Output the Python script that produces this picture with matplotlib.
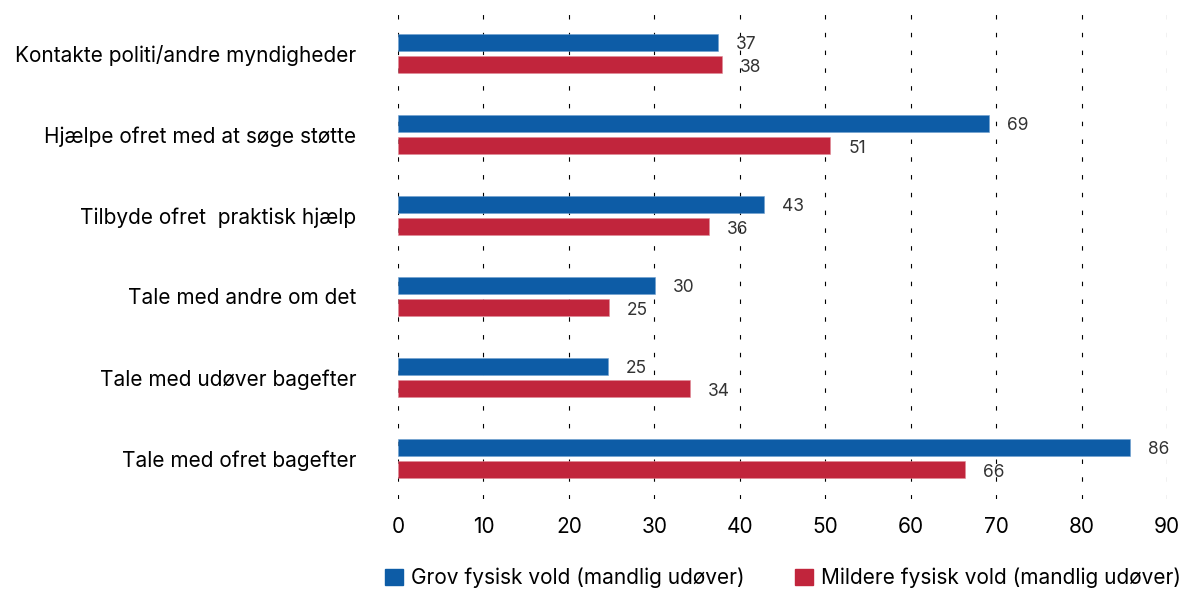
import matplotlib.pyplot as plt
import numpy as np
from matplotlib.patches import Patch

plt.rcParams['font.family'] = ['Inter', 'DejaVu Sans']

categories = ['Kontakte politi/andre myndigheder',
              'Hjælpe ofret med at søge støtte',
              'Tilbyde ofret  praktisk hjælp',
              'Tale med andre om det',
              'Tale med udøver bagefter',
              'Tale med ofret bagefter']
grov = [37.4, 69.2, 42.8, 30.1, 24.6, 85.7]
mildere = [37.9, 50.6, 36.4, 24.7, 34.2, 66.4]
series_names = ['Grov fysisk vold (mandlig udøver)', 'Mildere fysisk vold (mandlig udøver)']
colors = ['#0D5CA6', '#C1253C']

fig = plt.figure(figsize=(11.83, 5.90), dpi=100)
ax = fig.add_axes([398/1183, 1 - 499/590, (1167-398)/1183, 486/590])

y = np.arange(len(categories))
h = 0.22
off = 0.135
ax.barh(y - off, grov, height=h, color=colors[0], edgecolor='#6fa0d0', linewidth=0.4, zorder=3)
ax.barh(y + off, mildere, height=h, color=colors[1], edgecolor='#e08a96', linewidth=0.4, zorder=3)

for i in range(len(categories)):
    ax.annotate(str(round(grov[i])), (grov[i], y[i] - off + 0.03), xytext=(13, 0),
                textcoords='offset points', va='center', ha='left', fontsize=12.5, color='#333333', zorder=4)
    ax.annotate(str(round(mildere[i])), (mildere[i], y[i] + off + 0.04), xytext=(13, 0),
                textcoords='offset points', va='center', ha='left', fontsize=12.5, color='#333333', zorder=4)

ax.set_xlim(0, 90)
ax.set_ylim(len(categories) - 0.5, -0.5)
ax.set_xticks(range(0, 91, 10))
ax.set_yticks(y)
ax.set_yticklabels(categories, fontsize=15)
ax.tick_params(axis='x', labelsize=15, length=0, pad=13)
ax.tick_params(axis='y', length=0, pad=30)
for s in ax.spines.values():
    s.set_visible(False)
ax.grid(axis='x', color='black', linestyle=(0, (4, 12)), linewidth=0.8, zorder=0)
ax.set_axisbelow(True)

handles = [Patch(color=colors[0]), Patch(color=colors[1])]
fig.legend(handles, series_names, loc='center', bbox_to_anchor=(783/1183, 12/590),
           ncol=2, frameon=False, fontsize=15, handlelength=0.85, handleheight=0.85,
           handletextpad=0.4, columnspacing=2.4, borderpad=0)

fig.savefig('out.png', dpi=100)
